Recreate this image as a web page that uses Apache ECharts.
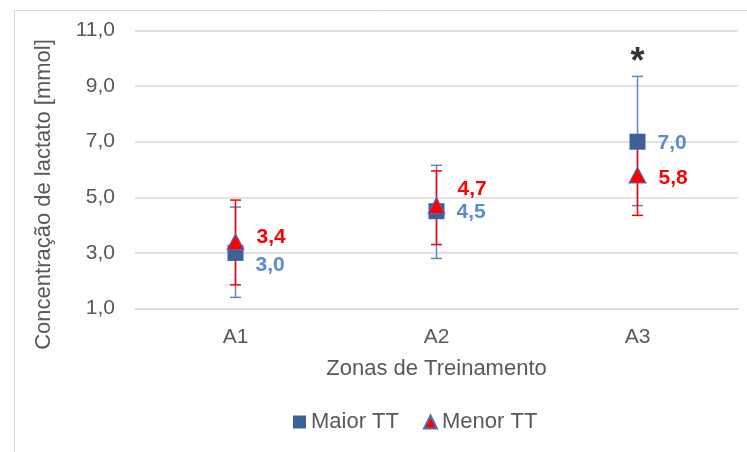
<!DOCTYPE html>
<html lang="pt">

<head>
  <meta charset="UTF-8">
  <title>Concentração de lactato</title>
  <script src="https://cdn.jsdelivr.net/npm/echarts@6/dist/echarts.min.js"></script>
  <style>
    html, body { margin: 0; padding: 0; background: #fff; }
  </style>
</head>

<body>
  <div id="chart" style="width: 747px; height: 452px"></div>

  <script>
    // dados
    let zonas = ['A1', 'A2', 'A3']
    let maiorTT = [3.0, 4.5, 7.0]
    let maiorMin = [1.4, 2.8, 4.7]
    let maiorMax = [4.65, 6.15, 9.35]
    let menorTT = [3.4, 4.7, 5.8]
    let menorMin = [1.85, 3.3, 4.35]
    let menorMax = [4.9, 5.95, 7.2]
    let significancia = [null, null, 10.1] // asterisco
    let yTicks = [1, 3, 5, 7, 9, 11]

    // deslocamento vertical dos rótulos (estilo)
    let maiorLabelDy = [12, 1, 2]
    let menorLabelDy = [-5, -16, 3]

    let azul = '#3B6196'
    let azulBarra = '#5B87C5'
    let azulTexto = '#5B8BCB'
    let vermelho = '#FF0000'
    let cinza = '#595959'
    let fonte = '"Liberation Sans", Arial, sans-serif'

    let fmt = v => v.toFixed(1).replace('.', ',')

    function errorBar(color) {
      return function (params, api) {
        let x = api.value(0)
        let top = api.coord([x, api.value(2)])
        let bottom = api.coord([x, api.value(1)])
        let cap = 5.5
        let style = { stroke: color, lineWidth: 1.5 }
        return {
          type: 'group',
          children: [
            { type: 'line', shape: { x1: top[0], y1: top[1], x2: bottom[0], y2: bottom[1] }, style: style },
            { type: 'line', shape: { x1: top[0] - cap, y1: top[1], x2: top[0] + cap, y2: top[1] }, style: style },
            { type: 'line', shape: { x1: bottom[0] - cap, y1: bottom[1], x2: bottom[0] + cap, y2: bottom[1] }, style: style }
          ]
        }
      }
    }

    let chart = echarts.init(document.getElementById('chart'))
    let option = {
      animation: false,
      textStyle: { fontFamily: fonte },
      graphic: [{
        type: 'rect',
        left: 12, top: 8,
        shape: { width: 800, height: 500 },
        style: { fill: 'none', stroke: '#d9d9d9', lineWidth: 1 },
        silent: true
      }],
      grid: { left: 135, right: 9, top: 30.5, bottom: 143.5 },
      legend: {
        left: 288, top: 406,
        itemWidth: 13, itemHeight: 13, itemGap: 24,
        textStyle: { fontSize: 22, color: cinza, fontFamily: fonte },
        data: [
          { name: 'Maior TT', icon: 'rect' },
          { name: 'Menor TT', icon: 'triangle' }
        ]
      },
      xAxis: {
        type: 'category',
        data: zonas,
        name: 'Zonas de Treinamento',
        nameLocation: 'middle',
        nameGap: 49,
        nameTextStyle: { fontSize: 22, color: cinza },
        axisLine: { show: true, lineStyle: { color: '#d9d9d9', width: 1.5 } },
        axisTick: { show: false },
        axisLabel: { fontSize: 21, color: cinza, margin: 18 }
      },
      yAxis: {
        type: 'value',
        min: yTicks[0],
        max: yTicks[yTicks.length - 1],
        interval: 2,
        name: 'Concentração de lactato [mmol]',
        nameLocation: 'middle',
        nameRotate: 90,
        nameGap: 80,
        nameTextStyle: { fontSize: 22, color: cinza, padding: [0, 50, 0, 0] },
        axisLine: { show: false },
        axisTick: { show: false },
        splitLine: { lineStyle: { color: '#d9d9d9', width: 1.5 } },
        axisLabel: { fontSize: 21, color: cinza, margin: 20, formatter: fmt }
      },
      series: [
        {
          type: 'custom',
          name: 'Maior TT barra',
          renderItem: errorBar(azulBarra),
          data: zonas.map((z, i) => [i, maiorMin[i], maiorMax[i]]),
          z: 2
        },
        {
          type: 'custom',
          name: 'Menor TT barra',
          renderItem: errorBar(vermelho),
          data: zonas.map((z, i) => [i, menorMin[i], menorMax[i]]),
          z: 3
        },
        {
          type: 'scatter',
          name: 'Maior TT',
          symbol: 'rect',
          symbolSize: 16,
          itemStyle: { color: azul, opacity: 1 },
          z: 4,
          data: maiorTT.map((v, i) => ({
            value: [i, v],
            label: { offset: [0, maiorLabelDy[i]] }
          })),
          label: {
            show: true, position: 'right', distance: 12,
            fontSize: 21, fontWeight: 'bold', color: azulTexto,
            formatter: p => fmt(p.value[1])
          }
        },
        {
          type: 'scatter',
          name: 'Menor TT',
          symbol: 'triangle',
          symbolSize: [17, 16],
          itemStyle: { color: vermelho, borderColor: '#4472C4', borderWidth: 1, opacity: 1 },
          z: 5,
          data: menorTT.map((v, i) => ({
            value: [i, v],
            label: { offset: [0, menorLabelDy[i]] }
          })),
          label: {
            show: true, position: 'right', distance: 12,
            fontSize: 21, fontWeight: 'bold', color: vermelho,
            formatter: p => fmt(p.value[1])
          }
        },
        {
          type: 'scatter',
          name: 'significancia',
          symbolSize: 0,
          silent: true,
          z: 6,
          data: significancia.map((v, i) => v == null ? null : [i, v]).filter(d => d),
          label: {
            show: true, position: 'inside', offset: [0, 8],
            fontSize: 36, fontWeight: 'bold', color: '#000',
            formatter: '*'
          }
        }
      ]
    }
    chart.setOption(option)
  </script>
</body>

</html>
